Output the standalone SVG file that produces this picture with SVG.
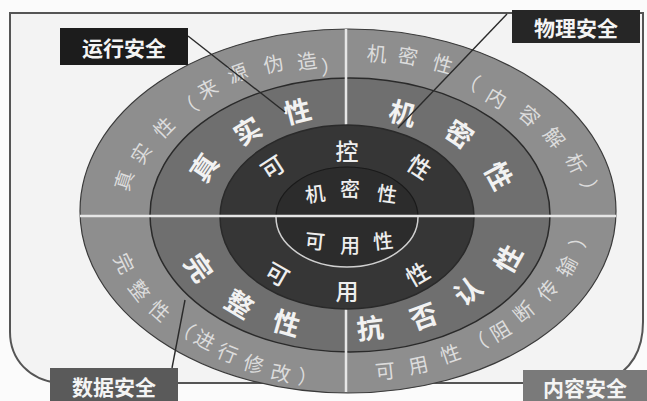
<svg xmlns="http://www.w3.org/2000/svg" width="647" height="401" viewBox="0 0 647 401">
<style>
text{font-family:"Noto Sans CJK SC","Noto Sans",sans-serif;text-anchor:middle;dominant-baseline:central}
.o{font-size:20px;fill:#dcdcdc}
.m{font-size:27px;font-weight:bold;fill:#f2f2f2}
.d{font-size:23px;font-weight:500;fill:#eeeeee}
.i{font-size:20px;font-weight:500;fill:#eeeeee}
.lb{font-size:21px;font-weight:bold;fill:#f4f4f4}
.ld{stroke:#2a2a2a;stroke-width:1.4;fill:none}
.ring{stroke:#2a2a2a;stroke-width:1.5}
</style>
<rect width="647" height="401" fill="#fbfbfb"/>
<path id="frame" d="M10,13 H643 V322 C643,350 632,370 605,383 H58 C30,380 10,360 10,332 Z" fill="#f3f3f3" stroke="#555" stroke-width="2"/>
<g id="ring-outer">
<ellipse cx="348" cy="211" rx="268" ry="182" fill="#8e8e8e" stroke="#3a3a3a" stroke-width="1.2"/>
</g>
<g id="ring-second">
<ellipse class="ring" cx="350" cy="215" rx="200" ry="137" fill="#6f6f6f"/>
</g>
<g id="cross">
<line x1="346" y1="29" x2="346" y2="392" stroke="#e6e6e6" stroke-width="2.5"/>
</g>
<g id="ring-dark">
<ellipse class="ring" cx="347" cy="217" rx="127" ry="92" fill="#363636"/>
</g>
<g id="ring-inner">
<ellipse cx="347" cy="217" rx="71" ry="50" fill="#2c2c2c"/>
<path d="M276,217 A71,50 0 0 1 418,217" fill="none" stroke="#1a1a1a" stroke-width="1.2"/>
<path d="M276,217 A71,50 0 0 0 418,217" fill="none" stroke="#d0d0d0" stroke-width="1.5"/>
</g>
<line id="hline" x1="80" y1="216" x2="616" y2="216" stroke="#e6e6e6" stroke-width="2.5"/>

<g id="outer-texts">
<text class="o" transform="translate(123,180) rotate(-72)">真</text>
<text class="o" transform="translate(140,153) rotate(-58)">实</text>
<text class="o" transform="translate(163,127) rotate(-45)">性</text>
<text class="o" transform="translate(187,107) rotate(-35)">（</text>
<text class="o" transform="translate(207,88) rotate(-28)">来</text>
<text class="o" transform="translate(237,72) rotate(-20)">源</text>
<text class="o" transform="translate(273,63) rotate(-13)">伪</text>
<text class="o" transform="translate(307,60) rotate(-7)">造</text>
<text class="o" transform="translate(331,66) rotate(-3)">）</text>

<text class="o" transform="translate(377,53) rotate(5)">机</text>
<text class="o" transform="translate(408,55) rotate(10)">密</text>
<text class="o" transform="translate(443,63) rotate(16)">性</text>
<text class="o" transform="translate(470,80) rotate(23)">（</text>
<text class="o" transform="translate(497,97) rotate(31)">内</text>
<text class="o" transform="translate(530,115) rotate(41)">容</text>
<text class="o" transform="translate(555,137) rotate(52)">解</text>
<text class="o" transform="translate(577,163) rotate(65)">析</text>
<text class="o" transform="translate(591,190) rotate(78)">）</text>

<text class="o" transform="translate(125,263) rotate(64)">完</text>
<text class="o" transform="translate(140,290) rotate(52)">整</text>
<text class="o" transform="translate(160,310) rotate(42)">性</text>
<text class="o" transform="translate(185,327) rotate(34)">（</text>
<text class="o" transform="translate(205,339) rotate(28)">进</text>
<text class="o" transform="translate(228,352) rotate(22)">行</text>
<text class="o" transform="translate(254,363) rotate(16)">修</text>
<text class="o" transform="translate(281,372) rotate(11)">改</text>
<text class="o" transform="translate(308,376) rotate(6)">）</text>

<text class="o" transform="translate(385,370) rotate(-6)">可</text>
<text class="o" transform="translate(418,364) rotate(-12)">用</text>
<text class="o" transform="translate(450,353) rotate(-19)">性</text>
<text class="o" transform="translate(477,342) rotate(-25)">（</text>
<text class="o" transform="translate(500,330) rotate(-31)">阻</text>
<text class="o" transform="translate(523,311) rotate(-40)">断</text>
<text class="o" transform="translate(547,290) rotate(-50)">传</text>
<text class="o" transform="translate(566,266) rotate(-62)">输</text>
<text class="o" transform="translate(578,237) rotate(-77)">）</text>
</g>

<g id="second-texts">
<text class="m" transform="translate(203,167) rotate(-56)">真</text>
<text class="m" transform="translate(247,130) rotate(-31)">实</text>
<text class="m" transform="translate(297,110) rotate(-14)">性</text>
<text class="m" transform="translate(403,112) rotate(15)">机</text>
<text class="m" transform="translate(460,133) rotate(34)">密</text>
<text class="m" transform="translate(500,175) rotate(62)">性</text>
<text class="m" transform="translate(200,267) rotate(55)">完</text>
<text class="m" transform="translate(240,303) rotate(31)">整</text>
<text class="m" transform="translate(287,322) rotate(16)">性</text>
<text class="m" transform="translate(370,327) rotate(-6)">抗</text>
<text class="m" transform="translate(423,315) rotate(-20)">否</text>
<text class="m" transform="translate(467,290) rotate(-38)">认</text>
<text class="m" transform="translate(507,258) rotate(-61)">性</text>
</g>

<g id="dark-texts">
<text class="d" transform="translate(272,166) rotate(-33)">可</text>
<text class="d" transform="translate(347,150)">控</text>
<text class="d" transform="translate(420,166) rotate(33)">性</text>
<text class="d" transform="translate(278,273) rotate(30)">可</text>
<text class="d" transform="translate(347,290)">用</text>
<text class="d" transform="translate(417,273) rotate(-30)">性</text>
</g>

<g id="inner-texts">
<text class="i" transform="translate(315,193) rotate(-8)">机</text>
<text class="i" transform="translate(350,188)">密</text>
<text class="i" transform="translate(387,193) rotate(8)">性</text>
<text class="i" transform="translate(315,240) rotate(6)">可</text>
<text class="i" transform="translate(350,244)">用</text>
<text class="i" transform="translate(383,240) rotate(-6)">性</text>
</g>

<g id="connectors">
<line class="ld" x1="188" y1="36" x2="285" y2="112"/>
<line class="ld" x1="507" y1="14" x2="398" y2="128"/>
<line class="ld" x1="172" y1="368" x2="185" y2="300"/>
</g>

<g id="label-yunxing">
<rect x="60" y="28" width="128" height="37" fill="#1c1c1c"/>
<text class="lb" x="124" y="47">运行安全</text>
</g>
<g id="label-wuli">
<rect x="512" y="10" width="128" height="33" fill="#262626"/>
<text class="lb" x="576" y="27">物理安全</text>
</g>
<g id="label-shuju">
<rect x="50" y="368" width="128" height="33" fill="#5a5a5a"/>
<text class="lb" x="114" y="386">数据安全</text>
</g>
<g id="label-neirong">
<rect x="523" y="370" width="124" height="31" fill="#7a7a7a"/>
<text class="lb" x="585" y="387">内容安全</text>
</g>
</svg>
